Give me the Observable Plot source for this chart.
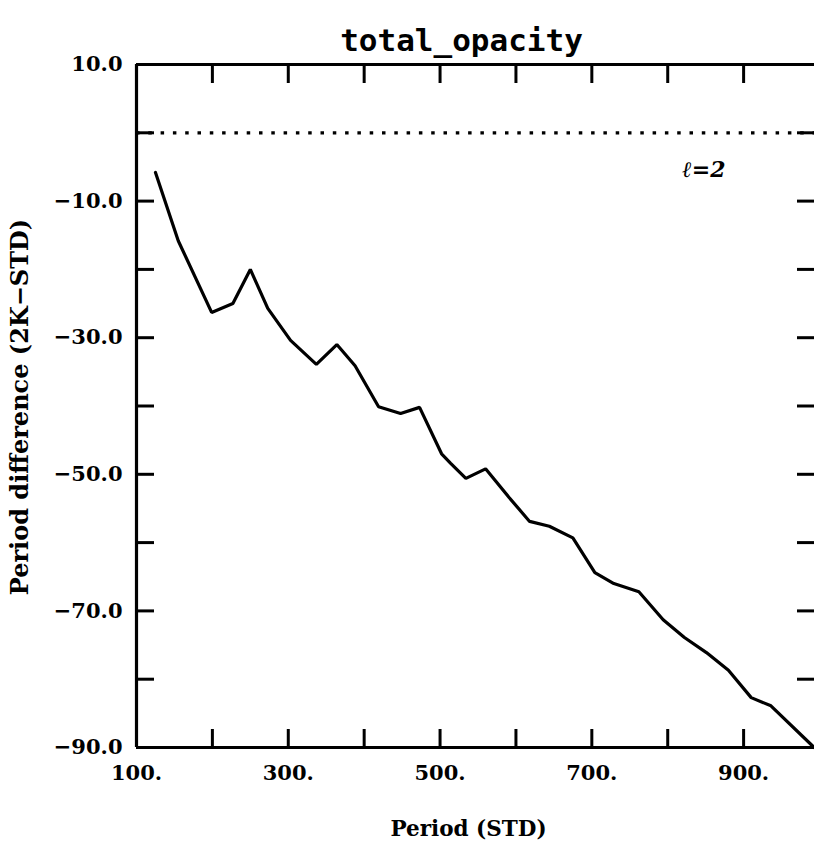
<!DOCTYPE html>
<html>
<head>
<meta charset="utf-8">
<script src="https://cdn.jsdelivr.net/npm/d3@7"></script>
<script src="https://cdn.jsdelivr.net/npm/@observablehq/plot@0.6"></script>
<style>
  body { margin: 0; background: #fff; }
  #chart svg { display: block; }
</style>
</head>
<body>
<div id="chart"></div>
<script>
// Data
const period = [125, 155, 199, 227, 250, 273, 303, 337, 364, 388, 419, 448, 473, 502, 514, 534, 560, 591, 618, 644, 675, 704, 729, 762, 794, 822, 851, 880, 910, 936, 993];
const diff   = [-5.8, -15.8, -26.3, -25.0, -20.0, -25.7, -30.4, -33.9, -31.0, -34.1, -40.1, -41.1, -40.2, -47.0, -48.4, -50.6, -49.2, -53.4, -56.9, -57.6, -59.3, -64.4, -66.0, -67.2, -71.3, -73.9, -76.1, -78.7, -82.7, -83.9, -90.0];
const xTicksMinor = [200, 300, 400, 500, 600, 700, 800, 900];
const xTickLabels = [100, 300, 500, 700, 900];
const yTicksMinor = [0, -10, -20, -30, -40, -50, -60, -70, -80];
const yTickLabels = [10, -10, -30, -50, -70, -90];
const refLine = [0];
const titleText = "total_opacity";
const xLabel = "Period (STD)";
const yLabel = "Period difference (2K\u2212STD)";
const annotation = "\u2113=2";

const data = period.map((p, i) => ({period: p, diff: diff[i]}));
const serif = "'DejaVu Serif', serif";
const yFmt = d => (d < 0 ? "\u2212" : "") + Math.abs(d).toFixed(1);

const chart = Plot.plot({
  width: 814,
  height: 851,
  marginTop: 64,
  marginBottom: 104,
  marginLeft: 136,
  marginRight: 0,
  style: {background: "#fff", color: "#000"},
  x: {domain: [100, 1000], range: [136, 819]},
  y: {domain: [-90, 10]},
  marks: [
    // frame
    Plot.ruleY([10, -90], {x1: 100, x2: 1000, strokeWidth: 3.2}),
    Plot.ruleX([100, 1000], {y1: -90, y2: 10, strokeWidth: 3.2}),
    // inward ticks
    Plot.axisX(xTicksMinor, {anchor: "bottom", tickSize: -18, strokeWidth: 3, text: null, label: null}),
    Plot.axisX(xTicksMinor, {anchor: "top", tickSize: -18, strokeWidth: 3, text: null, label: null}),
    Plot.axisY(yTicksMinor, {anchor: "left", tickSize: -18, strokeWidth: 3, text: null, label: null}),
    Plot.axisY(yTicksMinor, {anchor: "right", tickSize: -18, strokeWidth: 3, text: null, label: null}),
    // tick labels
    Plot.axisX(xTickLabels, {anchor: "bottom", tickSize: 0, tickPadding: 18, tickFormat: d => d + ".", fontSize: 21, fontWeight: "bold", fontFamily: serif, label: null}),
    Plot.axisY(yTickLabels, {anchor: "left", tickSize: 0, tickPadding: 14, tickFormat: yFmt, fontSize: 21, fontWeight: "bold", fontFamily: serif, label: null}),
    // reference dotted line
    Plot.ruleY(refLine, {x1: 100, x2: 1000, strokeWidth: 3.2, strokeDasharray: "3.5,8.8"}),
    // data line
    Plot.line(data, {x: "period", y: "diff", strokeWidth: 3.2, strokeLinejoin: "miter"}),
    // annotation
    Plot.text([annotation], {frameAnchor: "top-right", textAnchor: "end", dx: -89, dy: 97, fontSize: 22, fontWeight: "bold", fontStyle: "italic", fontFamily: serif}),
    // title
    Plot.text([titleText], {frameAnchor: "top", dx: -14, dy: -36, fontSize: 31, fontWeight: 600, fontFamily: "'DejaVu Sans Mono', monospace"}),
    // axis labels
    Plot.text([xLabel], {frameAnchor: "bottom", textAnchor: "middle", dx: -7, dy: 88, fontSize: 21.5, fontWeight: "bold", fontFamily: serif}),
    Plot.text([yLabel], {frameAnchor: "left", textAnchor: "middle", dx: -116, dy: 1, rotate: -90, fontSize: 24, fontWeight: "bold", fontFamily: serif})
  ]
});
document.getElementById("chart").appendChild(chart);
</script>
</body>
</html>
